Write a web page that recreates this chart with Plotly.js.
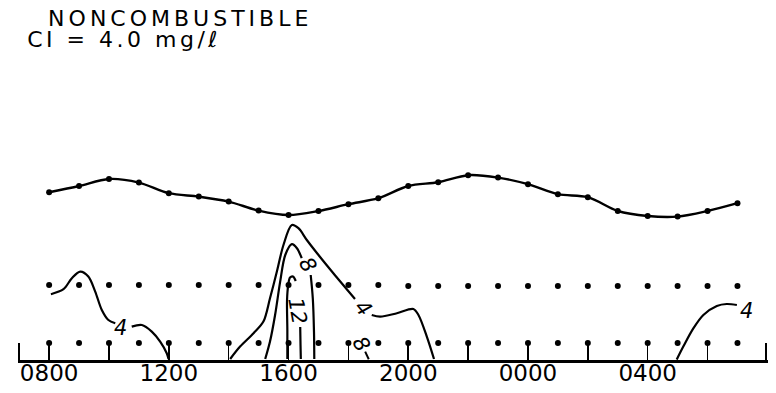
<!DOCTYPE html>
<html>
<head>
<meta charset="utf-8">
<script src="https://cdn.plot.ly/plotly-3.0.1.min.js"></script>
<style>
  html, body { margin: 0; padding: 0; background: #fff; }
  #chart { width: 776px; height: 393px; }
  .gtitle { letter-spacing: 4px; }
  g.annotation[data-index="0"] text { letter-spacing: 3.5px; }
</style>
</head>
<body>
<div id="chart"></div>
<script>
// ---- data (hours after 0800; height above bottom, m) ----
const hours = [0,1,2,3,4,5,6,7,8,9,10,11,12,13,14,15,16,17,18,19,20,21,22,23];
const surfaceHeight = [8.39,8.70,9.05,8.87,8.34,8.17,7.92,7.47,7.25,7.45,7.79,8.09,
                       8.70,8.89,9.24,9.12,8.79,8.29,8.14,7.45,7.20,7.17,7.45,7.84];
const midRowHeight = [3.75,3.75,3.75,3.75,3.75,3.75,3.75,3.75,3.75,3.75,3.75,3.75,
                      3.7,3.7,3.7,3.7,3.7,3.7,3.7,3.7,3.7,3.7,3.7,3.7];
const lowRowHeight = [0.85,0.85,0.85,0.85,0.85,0.85,0.85,0.85,0.85,0.85,0.85,0.85,
                      0.85,0.85,0.85,0.85,0.85,0.85,0.85,0.85,0.85,0.85,0.85,0.85];

// tick marks every 2 h plus the axis end brackets
const tickHours = [-1,0,2,4,6,8,10,12,14,16,18,20,22,23.95];
const tickText  = ['','0800','','1200','','1600','','2000','','0000','','0400','',''];

// contour 4 (morning)
const c4aX = [0.06,0.48,0.76,1.04,1.31,1.54,1.76,1.98,2.21,null,2.76,3.10,3.43,3.71,3.93,3.99];
const c4aY = [3.29,3.54,4.09,4.42,4.17,3.42,2.50,2.00,1.84,null,1.67,1.75,1.42,0.92,0.34,0.05];
// contour 4 (afternoon)
const c4bX = [6.05,6.38,6.83,7.16,7.38,7.61,7.83,8.11,8.33,8.61,9.00,9.49,10.22,null,10.78,11.06,11.62,12.17,12.34,12.62,12.86];
const c4bY = [0.05,0.67,1.34,1.92,3.09,4.42,5.75,6.75,6.59,6.00,5.25,4.35,3.05,null,2.25,2.17,2.34,2.55,2.25,1.17,0.05];
// contour 8
const c8X = [7.22,7.38,7.55,7.72,7.89,8.11,8.28,8.44,null,8.74,8.81,8.85,8.86];
const c8Y = [0.05,0.92,2.25,3.92,5.25,5.79,5.59,5.09,null,4.25,3.09,1.42,0.05];
// contour 12
const c12X = [7.96,7.96,7.95,7.99,8.05,8.15,8.24,null,8.39,8.40,8.41];
const c12Y = [0.05,1.50,3.00,3.75,4.12,4.17,3.95,null,1.65,0.75,0.05];
// contour 4 (early morning)
const c4cX = [20.97,21.19,21.53,21.86,22.31,22.64,22.98];
const c4cY = [0.02,0.67,1.59,2.25,2.70,2.80,2.75];
// leader of small 8 label
const leadX = [10.56,10.68];
const leadY = [0.42,0.04];

// contour labels
const labelText  = ['4','4','8','12','8','4'];
const labelX     = [2.40,10.50,8.62,8.30,10.42,23.30];
const labelY     = [1.60,2.62,4.78,2.45,0.78,2.45];
const labelAngle = [0,50,60,80,60,0];

const lineStyle = {color:'#000', width:2.2, shape:'spline', smoothing:0.9};
function contour(x, y) {
  return {x:x, y:y, type:'scatter', mode:'lines', line:lineStyle,
          connectgaps:false, hoverinfo:'skip', showlegend:false, cliponaxis:false};
}

const traces = [
  {x:hours, y:surfaceHeight, type:'scatter', mode:'lines+markers',
   line:{color:'#000', width:2.4, shape:'spline', smoothing:0.9},
   marker:{color:'#000', size:6}, showlegend:false},
  {x:hours, y:midRowHeight, type:'scatter', mode:'markers',
   marker:{color:'#000', size:6}, showlegend:false},
  {x:hours, y:lowRowHeight, type:'scatter', mode:'markers',
   marker:{color:'#000', size:6}, showlegend:false, cliponaxis:false},
  contour(c4aX, c4aY),
  contour(c4bX, c4bY),
  contour(c8X, c8Y),
  contour(c12X, c12Y),
  contour(c4cX, c4cY),
  {x:leadX, y:leadY, type:'scatter', mode:'lines', line:{color:'#000', width:2},
   showlegend:false, hoverinfo:'skip'}
];

const annotations = [{
  text:'CI = 4.0 mg/ℓ', xref:'paper', yref:'paper', x:0.040, y:1.60,
  xanchor:'left', yanchor:'middle', showarrow:false,
  font:{family:'DejaVu Sans', size:22, color:'#000'}
}];
for (let i = 0; i < labelText.length; i++) {
  annotations.push({
    text:labelText[i], x:labelX[i], y:labelY[i], xref:'x', yref:'y',
    showarrow:false, textangle:labelAngle[i],
    font:{family:'DejaVu Sans', size:21, color:'#000', style:'italic'},
    bgcolor:'rgba(0,0,0,0)'
  });
}

const layout = {
  width:776, height:393,
  margin:{l:18, r:8, t:160, b:33},
  paper_bgcolor:'#fff', plot_bgcolor:'#fff',
  title:{text:'NONCOMBUSTIBLE', xref:'container', yref:'container',
         x:0.062, xanchor:'left', y:0.953, yanchor:'middle',
         font:{family:'DejaVu Sans', size:22, color:'#000'}},
  xaxis:{range:[-1.04, 24.02], showgrid:false, zeroline:false,
         showline:true, linecolor:'#000', linewidth:2.5,
         ticks:'inside', ticklen:17, tickwidth:1.6, tickcolor:'#000',
         tickmode:'array', tickvals:tickHours, ticktext:tickText,
         ticklabelstandoff:-9,
         tickfont:{family:'DejaVu Sans', size:23, color:'#000'}},
  yaxis:{range:[0, 10], visible:false, showgrid:false, zeroline:false},
  annotations:annotations,
  showlegend:false
};

Plotly.newPlot('chart', traces, layout, {staticPlot:true, displayModeBar:false});
</script>
</body>
</html>
